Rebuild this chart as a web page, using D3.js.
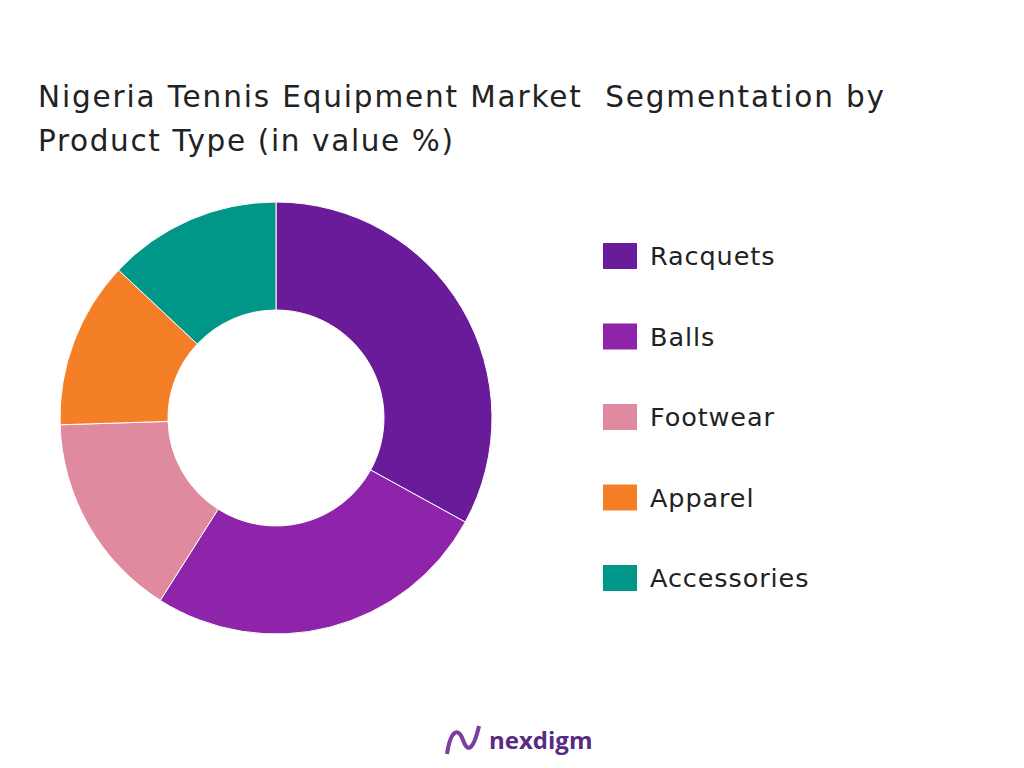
<!DOCTYPE html>
<html><head><meta charset="utf-8">
<script src="https://cdn.jsdelivr.net/npm/d3@7/dist/d3.min.js"></script>
<style>body{margin:0;background:#fff}</style></head>
<body><svg id="c" width="1024" height="768"></svg>
<script>
const categories = ["Racquets","Balls","Footwear","Apparel","Accessories"];
const values = [33, 26, 15.5, 12.5, 13];
const colors = ["#6A1B9A","#8E24AA","#E08AA0","#F57F26","#009688"];
const titleLines = ["Nigeria Tennis Equipment Market  Segmentation by","Product Type (in value %)"];
const titleWidths = [846, 415];

const svg = d3.select("#c");
const font = "'DejaVu Sans', sans-serif";
svg.selectAll("text.t").data(titleLines).join("text").attr("class","t")
  .attr("x",38).attr("y",(d,i)=>107+i*44).attr("xml:space","preserve")
  .attr("textLength",(d,i)=>titleWidths[i]).attr("lengthAdjust","spacing")
  .attr("font-family",font).attr("font-size",29.5).attr("fill","#222").text(d=>d);

const pie = d3.pie().sort(null).value(d=>d)(values);
const arc = d3.arc().innerRadius(108).outerRadius(216);
svg.append("g").attr("transform","translate(276,418)")
  .selectAll("path").data(pie).join("path")
  .attr("d",arc).attr("fill",(d,i)=>colors[i]).attr("stroke","#fff").attr("stroke-width",1);

const lg = svg.append("g").selectAll("g").data(categories).join("g")
  .attr("transform",(d,i)=>`translate(603,${256+i*80.5})`);
lg.append("rect").attr("x",0).attr("y",-13).attr("width",34).attr("height",26).attr("fill",(d,i)=>colors[i]);
lg.append("text").attr("x",47).attr("y",9).attr("font-family",font).attr("font-size",25.5)
  .attr("fill","#222").attr("letter-spacing",0.9).text(d=>d);

const logo = svg.append("g").attr("transform","translate(445,740)");
logo.append("path").attr("d","M2,14 C6,-12 14,-12 18,0 C22,12 28,12 34,-14")
  .attr("fill","none").attr("stroke","#7B3FA0").attr("stroke-width",4);
logo.append("text").attr("x",44).attr("y",9).attr("font-family","'Open Sans', sans-serif").attr("font-weight",700)
  .attr("font-size",24).attr("fill","#5A2A82").text("nexdigm");
</script></body></html>
